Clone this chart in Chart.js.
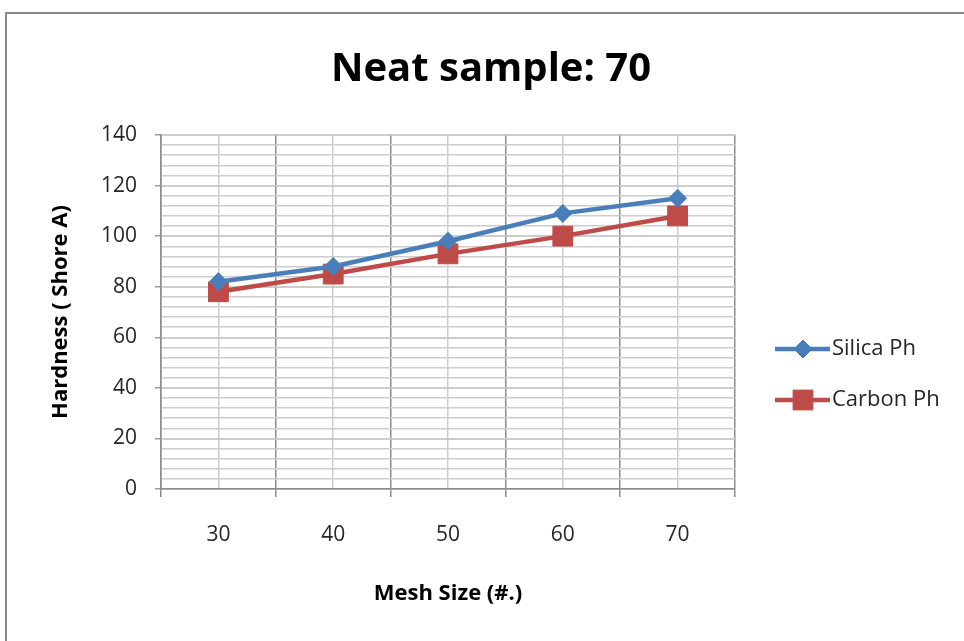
<!DOCTYPE html>
<html>
<head>
<meta charset="utf-8">
<title>Neat sample: 70</title>
<script src="https://cdn.jsdelivr.net/npm/chart.js@4.4.1/dist/chart.umd.min.js"></script>
<style>
    html, body { margin: 0; padding: 0; background: #ffffff; }
    #wrap { position: relative; width: 964px; height: 641px; }
</style>
</head>
<body>
<div id="wrap"><canvas id="hardness-chart"></canvas></div>
<script>
// Chart data
const meshSizes = ["30", "40", "50", "60", "70"];
const silicaPh = [82, 88, 98, 109, 115];
const carbonPh = [78, 85, 93, 100, 108];
const yMin = 0;
const yMax = 140;
const yMajorStep = 20;
const yMinorStep = 4;

const chartTitle = "Neat sample: 70";
const xTitle = "Mesh Size (#.)";
const yTitle = "Hardness ( Shore A)";

const fontFamily = "'Open Sans', 'Noto Sans', sans-serif";

const colors = {
    silica: "#4a7ebb",
    carbon: "#be4b48",
    text: "#262626",
    major: "#9c9c9c",
    minor: "#cdcdcd",
    frame: "#8a8a8a",
};

// Outer frame, title and Excel-style legend (line + marker)
const decorations = {
    id: "decorations",
    beforeDraw(chart) {
        const { ctx } = chart;
        ctx.save();
        ctx.strokeStyle = colors.frame;
        ctx.lineWidth = 2;
        ctx.strokeRect(6, 13, 1200, 900);
        ctx.restore();
    },
    afterDraw(chart) {
        const { ctx } = chart;
        ctx.save();
        ctx.fillStyle = "#000000";
        ctx.font = `bold 40px ${fontFamily}`;
        ctx.textAlign = "center";
        ctx.textBaseline = "middle";
        ctx.fillText(chartTitle, 491, 70);

        const legendX = 775;
        const legendY = [349, 400];
        chart.data.datasets.forEach((ds, i) => {
            const y = legendY[i];
            ctx.strokeStyle = ds.borderColor;
            ctx.lineWidth = ds.borderWidth;
            ctx.beginPath();
            ctx.moveTo(legendX, y);
            ctx.lineTo(legendX + 55, y);
            ctx.stroke();
            ctx.fillStyle = ds.pointBackgroundColor;
            ctx.strokeStyle = ds.pointBorderColor;
            ctx.lineWidth = 1;
            Chart.helpers.drawPoint(
                ctx,
                { pointStyle: ds.pointStyle, radius: ds.pointRadius, borderWidth: 1, rotation: 0 },
                legendX + 28,
                y
            );
            ctx.fillStyle = colors.text;
            ctx.font = `22px ${fontFamily}`;
            ctx.textAlign = "left";
            ctx.textBaseline = "middle";
            ctx.fillText(ds.label, legendX + 57, y);
        });
        ctx.restore();
    },
};

const ctx = document.getElementById("hardness-chart");

new Chart(ctx, {
    type: "line",
    data: {
        labels: meshSizes,
        datasets: [
            {
                label: "Silica Ph",
                data: silicaPh,
                borderColor: colors.silica,
                backgroundColor: colors.silica,
                borderWidth: 4.5,
                tension: 0,
                pointStyle: "rectRot",
                pointRadius: 9,
                pointBackgroundColor: colors.silica,
                pointBorderColor: colors.silica,
                pointBorderWidth: 1,
            },
            {
                label: "Carbon Ph",
                data: carbonPh,
                borderColor: colors.carbon,
                backgroundColor: colors.carbon,
                borderWidth: 4.5,
                tension: 0,
                pointStyle: "rect",
                pointRadius: 14,
                pointBackgroundColor: colors.carbon,
                pointBorderColor: colors.carbon,
                pointBorderWidth: 1,
            },
        ],
    },
    options: {
        responsive: true,
        maintainAspectRatio: false,
        animation: false,
        layout: {
            padding: { left: 30, top: 135, right: 229, bottom: 0 },
        },
        scales: {
            x: {
                type: "category",
                offset: true,
                grid: {
                    offset: true,
                    color: "#8c8c8c",
                    lineWidth: 1.5,
                    tickLength: 8,
                },
                border: { color: "#8c8c8c", width: 1.5 },
                ticks: {
                    color: colors.text,
                    padding: 25,
                    font: { family: fontFamily, size: 21 },
                },
                title: {
                    display: true,
                    text: xTitle,
                    color: "#000000",
                    font: { family: fontFamily, size: 22, weight: "bold" },
                    padding: { top: 0, bottom: 34 },
                },
                afterFit: (scale) => { scale.height = 152; },
            },
            x2: {
                type: "category",
                labels: meshSizes,
                offset: true,
                z: -1,
                grid: { offset: false, color: colors.minor, lineWidth: 1.5, drawTicks: false },
                border: { display: false },
                ticks: { display: false },
                afterFit: (scale) => { scale.height = 0; },
            },
            y: {
                min: yMin,
                max: yMax,
                ticks: {
                    stepSize: yMajorStep,
                    color: colors.text,
                    padding: 18,
                    font: { family: fontFamily, size: 21 },
                },
                grid: { color: colors.major, lineWidth: 1.5, tickLength: 6 },
                border: { color: "#8c8c8c", width: 1.5 },
                title: {
                    display: true,
                    text: yTitle,
                    color: "#000000",
                    font: { family: fontFamily, size: 22, weight: "bold" },
                    padding: { top: 18, bottom: 0 },
                },
                afterFit: (scale) => { scale.width = 131; },
            },
            y2: {
                position: "left",
                min: yMin,
                max: yMax,
                z: -2,
                ticks: { display: false, stepSize: yMinorStep },
                grid: { color: colors.minor, lineWidth: 1.5, drawTicks: false },
                border: { display: false },
                afterFit: (scale) => { scale.width = 0; },
            },
        },
        plugins: {
            legend: { display: false },
            title: { display: false },
            tooltip: { enabled: false },
        },
    },
    plugins: [decorations],
});
</script>
</body>
</html>
